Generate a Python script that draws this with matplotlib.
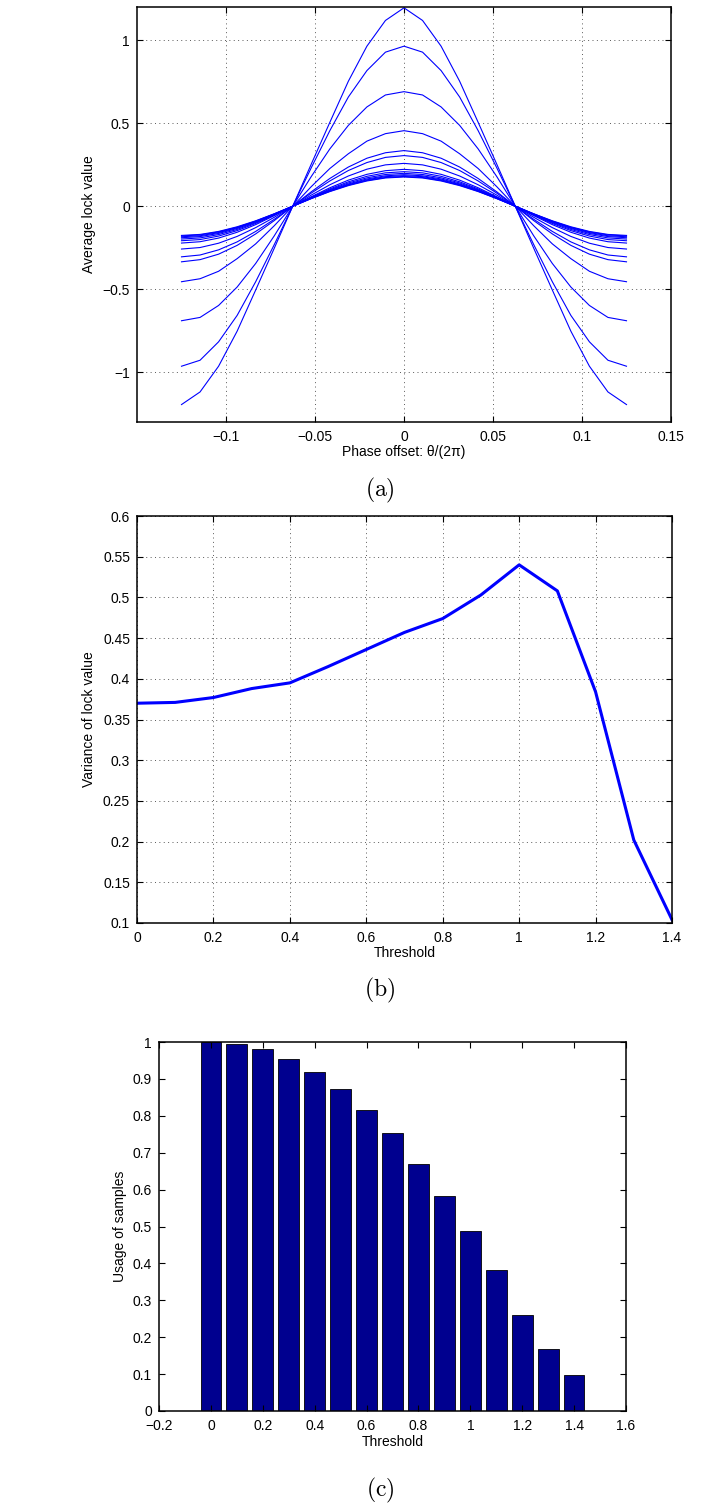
import numpy as np
import matplotlib
matplotlib.use("Agg")
from matplotlib import pyplot as plt
from matplotlib.ticker import FuncFormatter

plt.rcParams['font.family'] = ['Liberation Sans', 'DejaVu Sans']
plt.rcParams['mathtext.fontset'] = 'cm'

# (a) lock value vs phase offset, one curve per threshold.
# half profiles from offset 0 out to the zero crossing (step 1/96);
# the curves are odd around the crossing, so the tail is the negated mirror
phase_step = 0.125 / 12
lock_half = [
    [1.195, 1.119, 0.964, 0.753, 0.505, 0.254, 0.0],
    [0.964, 0.928, 0.817, 0.658, 0.455, 0.232, 0.0],
    [0.690, 0.670, 0.598, 0.487, 0.345, 0.179, 0.0],
    [0.455, 0.437, 0.392, 0.316, 0.227, 0.118, 0.0],
    [0.335, 0.322, 0.289, 0.236, 0.167, 0.087, 0.0],
    [0.305, 0.294, 0.263, 0.215, 0.152, 0.079, 0.0],
    [0.258, 0.249, 0.223, 0.182, 0.129, 0.067, 0.0],
    [0.222, 0.214, 0.192, 0.157, 0.111, 0.057, 0.0],
    [0.208, 0.201, 0.180, 0.147, 0.104, 0.054, 0.0],
    [0.198, 0.191, 0.171, 0.140, 0.099, 0.051, 0.0],
    [0.190, 0.183, 0.164, 0.134, 0.095, 0.049, 0.0],
    [0.184, 0.178, 0.159, 0.130, 0.092, 0.048, 0.0],
    [0.179, 0.173, 0.155, 0.127, 0.090, 0.046, 0.0],
    [0.176, 0.170, 0.152, 0.124, 0.088, 0.046, 0.0],
]

# (b) variance of lock value vs threshold
threshold = [0.0, 0.1, 0.2, 0.3, 0.4, 0.5, 0.6, 0.7, 0.8, 0.9, 1.0, 1.1, 1.2, 1.3, 1.4]
lock_variance = [0.370, 0.371, 0.377, 0.388, 0.395, 0.415, 0.436, 0.457, 0.474,
                 0.503, 0.540, 0.508, 0.384, 0.202, 0.104]

# (c) fraction of samples used vs threshold
sample_usage = [1.000, 0.995, 0.980, 0.955, 0.919, 0.873, 0.816, 0.753, 0.669,
                0.583, 0.487, 0.383, 0.261, 0.167, 0.097]

W, H = 724, 1510
fig = plt.figure(figsize=(W / 100, H / 100), dpi=100)


def box(l, r, t, b):
    return [l / W, (H - b) / H, (r - l) / W, (b - t) / H]


fmt = FuncFormatter(lambda v, p: ('%g' % round(v, 4)).replace('-', '\u2212'))


def matlab_style(ax, grid=True):
    ax.tick_params(direction='in', top=True, right=True, length=4, width=0.8,
                   labelsize=10, pad=6)
    ax.tick_params(axis='y', pad=5)
    for s in ax.spines.values():
        s.set_linewidth(1.1)
    if grid:
        ax.grid(True, color='0.35', linestyle=(0, (1, 3.5)), linewidth=0.7)
    ax.xaxis.set_major_formatter(fmt)
    ax.yaxis.set_major_formatter(fmt)


# ---- (a)
ax1 = fig.add_axes(box(137, 671, 7, 422))
k = np.arange(13)
x_right = k * phase_step
for half in lock_half:
    half = np.array(half)
    tail = -half[::-1][1:]          # offsets past the crossing
    right = np.concatenate([half, tail])
    x = np.concatenate([-x_right[::-1], x_right[1:]])
    y = np.concatenate([right[::-1], right[1:]])
    ax1.plot(x, y, color='#0000ff', linewidth=0.8)
ax1.set_xlim(-0.15, 0.15)
ax1.set_ylim(-1.3, 1.2)
ax1.set_xticks([-0.1, -0.05, 0, 0.05, 0.1, 0.15])
ax1.set_yticks([-1, -0.5, 0, 0.5, 1])
matlab_style(ax1)
ax1.set_xlabel('Phase offset: \u03b8/(2\u03c0)', fontsize=10)
ax1.set_ylabel('Average lock value', fontsize=10)
ax1.xaxis.set_label_coords(0.5, -0.072)
ax1.xaxis.label.set_va('center')
ax1.yaxis.set_label_coords(-0.089, 0.5)
ax1.yaxis.label.set_va('center')

# ---- (b)
ax2 = fig.add_axes(box(137, 672, 516, 923))
ax2.plot(threshold, lock_variance, color='#0000ff', linewidth=2.2)
ax2.set_xlim(0, 1.4)
ax2.set_ylim(0.1, 0.6)
ax2.set_xticks(np.arange(0, 1.41, 0.2))
ax2.set_yticks(np.arange(0.1, 0.601, 0.05))
matlab_style(ax2)
ax2.set_xlabel('Threshold', fontsize=10)
ax2.set_ylabel('Variance of lock value', fontsize=10)
ax2.xaxis.set_label_coords(0.5, -0.074)
ax2.xaxis.label.set_va('center')
ax2.yaxis.set_label_coords(-0.0905, 0.5)
ax2.yaxis.label.set_va('center')

# ---- (c)
ax3 = fig.add_axes(box(159, 626, 1042, 1411))
ax3.bar(threshold, sample_usage, width=0.08, color='#00008f',
        edgecolor='black', linewidth=0.6)
ax3.set_xlim(-0.2, 1.6)
ax3.set_ylim(0, 1)
ax3.set_xticks(np.arange(-0.2, 1.61, 0.2))
ax3.set_yticks(np.arange(0, 1.01, 0.1))
matlab_style(ax3, grid=False)
ax3.set_xlabel('Threshold', fontsize=10)
ax3.set_ylabel('Usage of samples', fontsize=10)
ax3.xaxis.set_label_coords(0.5, -0.084)
ax3.xaxis.label.set_va('center')
ax3.yaxis.set_label_coords(-0.0835, 0.5)
ax3.yaxis.label.set_va('center')

# sub-figure captions
for lab, yc in [('(a)', 490), ('(b)', 990), ('(c)', 1490)]:
    fig.text(380 / W, 1 - yc / H, r'$\mathrm{%s}$' % lab, fontsize=17,
             ha='center', va='center')

fig.savefig('out.png', dpi=100)
